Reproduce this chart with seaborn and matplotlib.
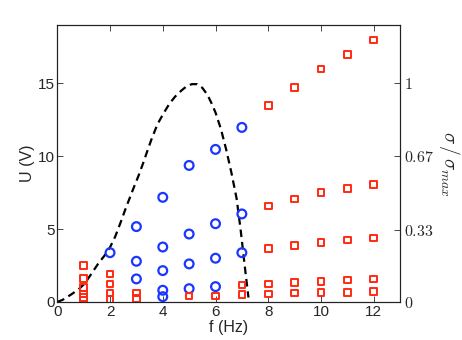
import matplotlib
matplotlib.use("Agg")
import matplotlib.pyplot as plt
import seaborn as sns
import pandas as pd

# ---- data ----
circ_f = [2, 3, 3, 3, 4, 4, 4, 4, 4, 5, 5, 5, 5, 6, 6, 6, 6, 7, 7, 7]
circ_U = [3.38, 5.17, 2.79, 1.58, 7.18, 3.77, 2.15, 0.80, 0.36,
          9.37, 4.66, 2.61, 0.91, 10.47, 5.37, 3.00, 1.05, 11.98, 6.04, 3.38]

sq_f = [1, 1, 1, 1, 1, 1,
        2, 2, 2, 2,
        3, 3,
        5, 6,
        7, 7,
        8, 8, 8, 8, 8,
        9, 9, 9, 9, 9,
        10, 10, 10, 10, 10,
        11, 11, 11, 11, 11,
        12, 12, 12, 12, 12]
sq_U = [2.49, 1.60, 1.00, 0.55, 0.30, 0.08,
        1.92, 1.23, 0.60, 0.16,
        0.62, 0.25,
        0.41, 0.41,
        1.17, 0.50,
        13.49, 6.60, 3.68, 1.23, 0.55,
        14.72, 7.06, 3.86, 1.32, 0.60,
        16.00, 7.52, 4.07, 1.39, 0.64,
        16.99, 7.80, 4.25, 1.51, 0.66,
        17.99, 8.07, 4.39, 1.56, 0.73]

curve_f = [0.0, 0.2, 0.5, 0.8, 1.05, 1.3, 1.56, 1.8, 2.0, 2.2, 2.4, 2.6,
           2.9, 3.1, 3.27, 3.45, 3.6, 3.8, 4.03, 4.25, 4.47, 4.7, 4.9,
           5.1, 5.3, 5.5, 5.7, 5.86, 6.0, 6.2, 6.4, 6.6, 6.8, 6.95, 7.1,
           7.25]
curve_U = [0.0, 0.14, 0.48, 0.85, 1.28, 1.95, 2.65, 3.2, 3.75, 4.5, 5.45,
           6.45, 7.85, 8.75, 9.6, 10.55, 11.3, 12.2, 12.95, 13.6, 14.1,
           14.5, 14.8, 14.95, 14.95, 14.7, 14.2, 13.6, 13.0, 11.9, 10.5,
           8.9, 7.1, 5.0, 2.6, 0.3]

x_ticks = [0, 2, 4, 6, 8, 10, 12]
y_ticks = [0, 5, 10, 15]
right_ticks = [0, 0.33, 0.67, 1]
right_labels = ["0", "0.33", "0.67", "1"]
U_at_sigma_max = 15

# ---- styling ----
sns.set_style("ticks")
plt.rcParams["font.family"] = ["Liberation Sans", "DejaVu Sans"]
plt.rcParams["mathtext.fontset"] = "cm"

blue = "#1a36ff"
red = "#ff2a12"

fig = plt.figure(figsize=(4.62, 3.4), dpi=100)
ax = fig.add_axes([0.124, 0.112, 0.742, 0.814])

curve_df = pd.DataFrame({"f": curve_f, "U": curve_U})
sns.lineplot(data=curve_df, x="f", y="U", ax=ax, color="black",
             linestyle=(0, (3.4, 2.2)), linewidth=1.6, sort=False,
             estimator=None)

circ_df = pd.DataFrame({"f": circ_f, "U": circ_U})
sns.scatterplot(data=circ_df, x="f", y="U", ax=ax, marker="o", s=40,
                facecolor="none", edgecolor=blue, linewidth=1.6, zorder=3)

sq_df = pd.DataFrame({"f": sq_f, "U": sq_U})
sns.scatterplot(data=sq_df, x="f", y="U", ax=ax, marker="s", s=22,
                facecolor="none", edgecolor=red, linewidth=1.4, zorder=3)

ax.set_xlim(0, 13)
ax.set_ylim(0, 19)
ax.set_xticks(x_ticks)
ax.set_yticks(y_ticks)
ax.set_xlabel("f (Hz)", fontsize=11.5, labelpad=1)
ax.set_ylabel("U (V)", fontsize=11.5, labelpad=2)
ax.tick_params(direction="in", length=4, width=0.6, labelsize=11,
               top=True, right=False, pad=2)
for s in ax.spines.values():
    s.set_linewidth(0.8)
    s.set_color("#222222")

ax2 = ax.twinx()
ax2.set_ylim(0, 19 / U_at_sigma_max)
ax2.set_yticks(right_ticks)
ax2.set_yticklabels([f"${t}$" for t in right_labels])
ax2.tick_params(direction="in", length=4, width=0.6, labelsize=11.5, pad=3)
ax2.set_ylabel(r"$\sigma\,/\,\sigma_{max}$", fontsize=14, rotation=-90,
               labelpad=20)
for s in ax2.spines.values():
    s.set_linewidth(0.8)
    s.set_color("#222222")

fig.savefig("out.png", dpi=100)
